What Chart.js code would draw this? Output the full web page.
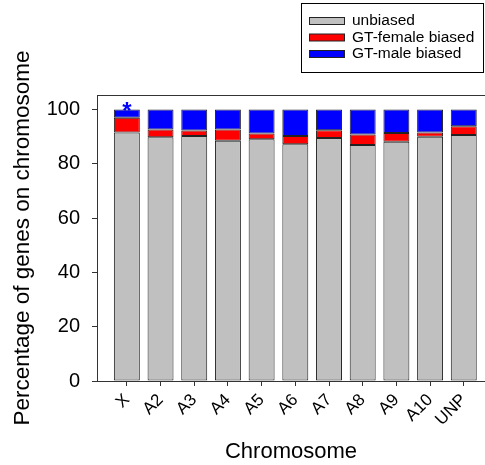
<!DOCTYPE html>
<html>
<head>
<meta charset="utf-8">
<script src="https://cdn.jsdelivr.net/npm/chart.js@4/dist/chart.umd.min.js"></script>
<style>
    html, body {margin: 0; padding: 0; background: #fff; overflow: hidden;}
    #wrap {width: 485px; height: 465px;}
</style>
</head>
<body>
<div id="wrap"><canvas id="chart"></canvas></div>
<script>
const chromosomes = ['X', 'A2', 'A3', 'A4', 'A5', 'A6', 'A7', 'A8', 'A9', 'A10', 'UNP'];
const unbiased = [91.5, 89.7, 90.2, 88.5, 89.0, 87.2, 89.5, 86.9, 88.1, 89.9, 90.6];
const femaleBiased = [5.4, 2.9, 2.0, 4.1, 2.1, 3.0, 2.8, 3.9, 3.2, 1.6, 3.2];
const maleBiased = [3.1, 7.4, 7.8, 7.4, 8.9, 9.8, 7.7, 9.2, 8.7, 8.5, 6.2];
const significance = ['*', '', '', '', '', '', '', '', '', '', ''];
const yTicks = [0, 20, 40, 60, 80, 100];

const FONT = '"Liberation Sans", Arial, sans-serif';

function points(values) {
    return values.map((v, i) => ({x: i, y: v}));
}

/**
 * Top frame line of the plot area
 */
const pluginFrame = {
    id: 'frame',
    afterDraw: function(chart) {
        const {ctx, chartArea} = chart;
        ctx.save();
        ctx.strokeStyle = '#333';
        ctx.lineWidth = 1;
        ctx.beginPath();
        ctx.moveTo(chartArea.left, chartArea.top + 0.5);
        ctx.lineTo(chartArea.right, chartArea.top + 0.5);
        ctx.stroke();
        ctx.restore();
    },
};

/**
 * Significance marks above the bars
 */
const pluginStars = {
    id: 'stars',
    afterDatasetsDraw: function(chart) {
        const ctx = chart.ctx;
        const x = chart.scales.x;
        const y = chart.scales.y;
        ctx.save();
        ctx.fillStyle = '#0000ff';
        ctx.font = 'bold 24px ' + FONT;
        ctx.textAlign = 'center';
        ctx.textBaseline = 'alphabetic';
        significance.forEach((s, i) => {
            if (!s) return;
            const top = unbiased[i] + femaleBiased[i] + maleBiased[i];
            ctx.fillText(s, x.getPixelForValue(i), y.getPixelForValue(top) + 10);
        });
        ctx.restore();
    },
};

/**
 * Boxed legend in the top right corner
 */
const pluginBoxLegend = {
    id: 'boxLegend',
    afterDraw: function(chart) {
        const ctx = chart.ctx;
        const box = {x: 301.5, y: 3.5, w: 182, h: 69};
        ctx.save();
        ctx.strokeStyle = '#000';
        ctx.lineWidth = 1;
        ctx.strokeRect(box.x, box.y, box.w, box.h);
        ctx.font = '15.5px ' + FONT;
        ctx.textBaseline = 'middle';
        ctx.textAlign = 'left';
        chart.data.datasets.forEach((ds, i) => {
            const cy = 21 + i * 16.5;
            ctx.fillStyle = ds.backgroundColor;
            ctx.fillRect(309, cy - 3.5, 35, 7);
            ctx.strokeStyle = '#222';
            ctx.strokeRect(309.5, cy - 3.5, 35, 7);
            ctx.fillStyle = '#000';
            ctx.fillText(ds.label, 352, cy);
        });
        ctx.restore();
    },
};

const barStyle = {
    borderColor: '#222',
    borderWidth: 1,
    borderSkipped: false,
    barPercentage: 0.77,
    categoryPercentage: 1,
};

new Chart(document.getElementById('chart'), {
    type: 'bar',
    data: {
        datasets: [
            Object.assign({label: 'unbiased', data: points(unbiased), backgroundColor: '#c0c0c0'}, barStyle),
            Object.assign({label: 'GT-female biased', data: points(femaleBiased), backgroundColor: '#ff0000'}, barStyle),
            Object.assign({label: 'GT-male biased', data: points(maleBiased), backgroundColor: '#0000ff'}, barStyle),
        ],
    },
    options: {
        responsive: true,
        maintainAspectRatio: false,
        animation: false,
        layout: {
            padding: {top: 95, right: 0, bottom: 0, left: 0},
        },
        plugins: {
            legend: {display: false},
            tooltip: {enabled: false},
        },
        scales: {
            x: {
                type: 'linear',
                stacked: true,
                min: -0.886,
                max: 10.63,
                offset: false,
                afterBuildTicks: function(scale) {
                    scale.ticks = chromosomes.map((c, i) => ({value: i}));
                },
                afterFit: function(scale) {
                    scale.height = 84;
                },
                grid: {
                    offset: false,
                    drawOnChartArea: false,
                    drawTicks: true,
                    tickLength: 5,
                    color: '#333',
                },
                border: {display: true, color: '#333', width: 1},
                ticks: {
                    autoSkip: false,
                    minRotation: 45,
                    maxRotation: 45,
                    padding: 4,
                    color: '#000',
                    font: {family: FONT, size: 17},
                    callback: function(value) {
                        return chromosomes[value];
                    },
                },
                title: {
                    display: true,
                    text: 'Chromosome',
                    color: '#000',
                    font: {family: FONT, size: 22},
                    padding: {top: 2, bottom: 0},
                },
            },
            y: {
                stacked: true,
                min: 0,
                max: 105.3,
                afterBuildTicks: function(scale) {
                    scale.ticks = yTicks.map((v) => ({value: v}));
                },
                afterFit: function(scale) {
                    scale.width = 97;
                },
                grid: {
                    drawOnChartArea: false,
                    drawTicks: true,
                    tickLength: 5,
                    color: '#333',
                },
                border: {display: true, color: '#333', width: 1},
                ticks: {
                    padding: 12,
                    color: '#000',
                    font: {family: FONT, size: 20},
                },
                title: {
                    display: true,
                    text: 'Percentage of genes on chromosome',
                    color: '#000',
                    font: {family: FONT, size: 22.5},
                    padding: {top: 9, bottom: 0},
                },
            },
        },
    },
    plugins: [pluginFrame, pluginStars, pluginBoxLegend],
});
</script>
</body>
</html>
